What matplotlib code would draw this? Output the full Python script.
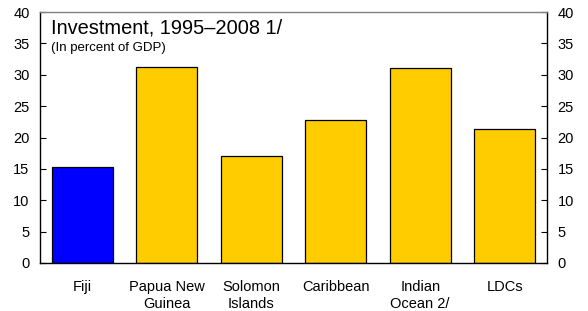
import matplotlib
matplotlib.use("Agg")
import matplotlib.pyplot as plt

plt.rcParams['font.family'] = ['Liberation Sans', 'DejaVu Sans']

categories = ["Fiji", "Papua New\nGuinea", "Solomon\nIslands", "Caribbean", "Indian\nOcean 2/", "LDCs"]
values = [15.3, 31.2, 17.1, 22.8, 31.1, 21.4]
colors = ["#0000FF", "#FFCC00", "#FFCC00", "#FFCC00", "#FFCC00", "#FFCC00"]

fig = plt.figure(figsize=(5.88, 3.11), dpi=100)
ax = fig.add_axes([40/588, 48/311, 507/588, 251/311])

x = range(len(categories))
ax.bar(x, values, width=0.72, color=colors, edgecolor="black", linewidth=0.9)

ax.set_xlim(-0.5, len(categories) - 0.5)
ax.set_ylim(0, 40)
ax.set_yticks(range(0, 41, 5))
ax.set_xticks(list(x))
ax.set_xticklabels(categories, fontsize=10.5, linespacing=1.3)
ax.tick_params(axis="x", length=0, pad=12)
ax.tick_params(axis="y", direction="in", length=4, labelsize=10.5, pad=7.5,
               left=True, right=True, labelleft=True, labelright=True)

for s in ["left", "right", "bottom"]:
    ax.spines[s].set_color("black")
    ax.spines[s].set_linewidth(1)
ax.spines["top"].set_color("#808080")
ax.spines["top"].set_linewidth(1)

ax.text(0.022, 0.936, "Investment, 1995\u20132008 1/", transform=ax.transAxes,
        fontsize=14.4, va="center", ha="left")
ax.text(0.022, 0.857, "(In percent of GDP)", transform=ax.transAxes,
        fontsize=9.5, va="center", ha="left")

fig.savefig("out.png", dpi=100)
